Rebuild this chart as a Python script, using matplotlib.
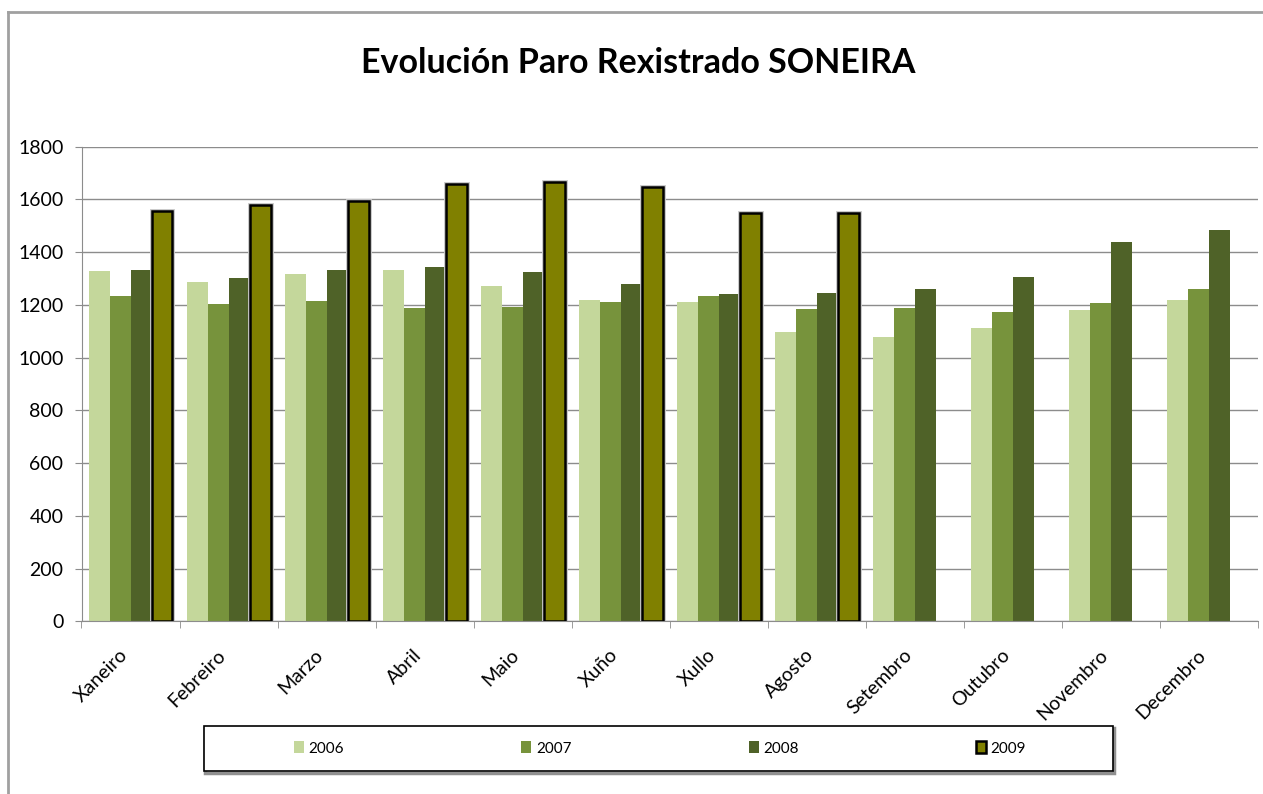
import matplotlib
matplotlib.use('Agg')
import matplotlib.pyplot as plt
from matplotlib.patches import Rectangle
from matplotlib.lines import Line2D
from matplotlib.transforms import ScaledTranslation
import numpy as np

# Data
months = ['Xaneiro', 'Febreiro', 'Marzo', 'Abril', 'Maio', 'Xuño',
          'Xullo', 'Agosto', 'Setembro', 'Outubro', 'Novembro', 'Decembro']
paro_2006 = [1328, 1285, 1319, 1334, 1273, 1220, 1212, 1098, 1079, 1113, 1179, 1217]
paro_2007 = [1232, 1205, 1216, 1190, 1193, 1212, 1232, 1186, 1190, 1174, 1208, 1262]
paro_2008 = [1332, 1301, 1332, 1342, 1323, 1281, 1243, 1247, 1262, 1304, 1437, 1483]
paro_2009 = [1558, 1578, 1595, 1657, 1667, 1646, 1548, 1550]
years = ['2006', '2007', '2008', '2009']
colors = ['#C4D79B', '#77933C', '#4F6228', '#808000']

plt.rcParams['font.family'] = ['Lato', 'DejaVu Sans']

fig = plt.figure(figsize=(12.63, 7.94), dpi=100)
W, H = 1263, 794

# outer chart frame (left and top only visible)
fig.add_artist(Line2D([8 / W, 8 / W], [0, 1 - 12 / H], color='#A0A0A0', lw=2))
fig.add_artist(Line2D([8 / W, 1], [1 - 12 / H, 1 - 12 / H], color='#A0A0A0', lw=2))

ax = fig.add_axes([81.5 / W, 1 - 621.3 / H, (1258 - 81.5) / W, (621.3 - 146.7) / H])

x = np.arange(len(months))
bw = 0.214
series = [paro_2006, paro_2007, paro_2008]
for i, vals in enumerate(series):
    ax.bar(x + (i - 1.5) * bw, vals, width=bw, color=colors[i], label=years[i], zorder=2)

x09 = x[:len(paro_2009)] + 1.5 * bw
ax.bar(x09, paro_2009, width=bw, color='none', edgecolor='#C8C8C8', linewidth=3.5, zorder=2)
ax.bar(x09, paro_2009, width=bw, color=colors[3], edgecolor='black', linewidth=1.8,
       label=years[3], zorder=3)

ax.set_xlim(-0.5, len(months) - 0.5)
ax.set_ylim(0, 1800)
ax.set_yticks(range(0, 1801, 200))
ax.yaxis.grid(True, color='#8C8C8C', linewidth=1)
ax.set_axisbelow(True)

ax.set_xticks(x)
ax.set_xticklabels(months, rotation=45, ha='right', va='top', rotation_mode='anchor', fontsize=14)
ax.set_xticks(np.arange(-0.5, len(months)), minor=True)
ax.tick_params(axis='x', which='major', length=0, pad=18)
ax.tick_params(axis='x', which='minor', length=5, color='#8C8C8C', direction='out')
ax.tick_params(axis='y', length=5, color='#8C8C8C', labelsize=14, pad=8)
offset = ScaledTranslation(-12 / 100, 0, fig.dpi_scale_trans)
for lbl in ax.get_xticklabels():
    lbl.set_transform(lbl.get_transform() + offset)

for s in ['top', 'right']:
    ax.spines[s].set_visible(False)
for s in ['left', 'bottom']:
    ax.spines[s].set_color('#8C8C8C')

fig.text(638 / W, 1 - 63 / H, 'Evolución Paro Rexistrado SONEIRA', ha='center', va='center',
         fontsize=24.5, fontweight='bold')

# legend box
fig.add_artist(Rectangle((205 / W, 1 - 773 / H), 909 / W, 45 / H, transform=fig.transFigure,
                         facecolor='none', edgecolor='#909090', lw=2.5))
fig.add_artist(Rectangle((204 / W, 1 - 771 / H), 909 / W, 45 / H, transform=fig.transFigure,
                         facecolor='white', edgecolor='black', lw=1.2))

handles, labels = ax.get_legend_handles_labels()
leg = fig.legend(handles, labels, loc='center', bbox_to_anchor=(660 / W, 1 - 748.5 / H),
                 ncol=4, frameon=False, fontsize=11, handlelength=0.65, handleheight=0.85,
                 handletextpad=0.3, columnspacing=11.6)

fig.savefig('out.png', dpi=100)
plt.close(fig)
